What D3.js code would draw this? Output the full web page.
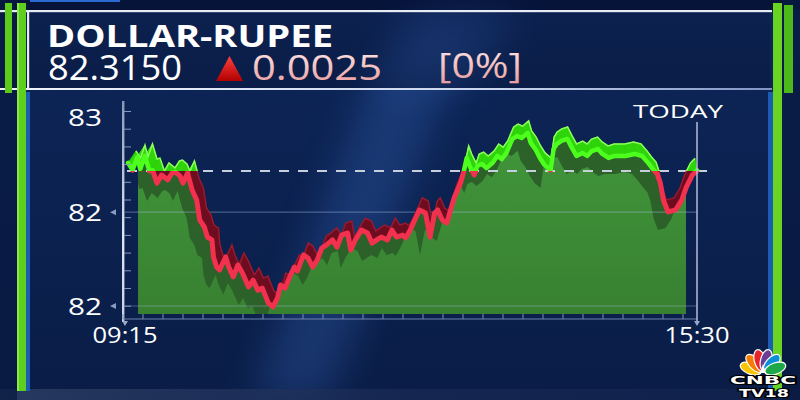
<!DOCTYPE html>
<html><head><meta charset="utf-8">
<script src="https://cdn.jsdelivr.net/npm/d3@7"></script>
<style>html,body{margin:0;padding:0;background:#0b1f4c;overflow:hidden}svg{display:block}</style>
</head><body><svg id="c" width="800" height="400"></svg>
<script>
// ---------- data ----------
const title = "DOLLAR-RUPEE";
const lastPrice = "82.3150";
const change = "0.0025";
const changePct = "[0%]";
const prevClose = 82.3125;
const periodLabel = "TODAY";
const xTickLabels = ["09:15", "15:30"];
const yTickValues = [82.5, 82.17, 81.845];
const times = ["09:17","09:20","09:23","09:25","09:28","09:31","09:33","09:36","09:39","09:43",
"09:46","09:48","09:51","09:53","09:56","09:59","10:02","10:04","10:07","10:09",
"10:12","10:13","10:15","10:17","10:21","10:23","10:26","10:29","10:32","10:36",
"10:39","10:42","10:45","10:49","10:52","10:55","10:57","11:00","11:03","11:06",
"11:08","11:12","11:15","11:18","11:21","11:24","11:27","11:31","11:34","11:37",
"11:41","11:43","11:46","11:50","11:54","11:57","12:00","12:03","12:07","12:10",
"12:13","12:17","12:19","12:22","12:25","12:28","12:32","12:35","12:38","12:40",
"12:43","12:46","12:49","12:51","12:55","12:57","12:59","13:01","13:04","13:06",
"13:09","13:12","13:16","13:19","13:22","13:25","13:29","13:32","13:35","13:39",
"13:41","13:44","13:47","13:50","13:54","13:56","13:58","14:01","14:05","14:08",
"14:11","14:15","14:18","14:21","14:25","14:28","14:32","14:36","14:43","14:49",
"14:54","14:58","15:01","15:04","15:06","15:08","15:11","15:16","15:20","15:23",
"15:27","15:30"];
const values = [82.341,82.316,82.361,82.320,82.365,82.313,82.316,82.271,82.299,82.282,
82.306,82.309,82.296,82.271,82.306,82.247,82.212,82.143,82.119,82.084,
82.074,82.015,81.980,81.970,82.015,81.980,81.946,81.987,81.959,81.911,
81.935,81.900,81.907,81.855,81.842,81.873,81.918,81.907,81.946,81.980,
81.966,82.022,82.011,81.980,82.004,82.046,82.056,82.074,82.049,82.091,
82.098,82.039,82.074,82.108,82.098,82.063,82.074,82.084,82.074,82.108,
82.084,82.091,82.081,82.108,82.143,82.178,82.167,82.084,82.167,82.178,
82.143,82.133,82.188,82.223,82.271,82.309,82.358,82.330,82.299,82.330,
82.337,82.323,82.341,82.365,82.354,82.375,82.424,82.434,82.427,82.445,
82.410,82.389,82.358,82.334,82.316,82.389,82.406,82.417,82.424,82.393,
82.365,82.375,82.365,82.382,82.389,82.372,82.358,82.365,82.365,82.372,
82.365,82.341,82.320,82.302,82.271,82.212,82.171,82.178,82.212,82.257,
82.299,82.315];

// ---------- setup ----------
const parse = d3.timeParse("%H:%M");
const svg = d3.select("#c");
const defs = svg.append("defs");
const FONT = "'Open Sans', 'DejaVu Sans', sans-serif";

function lin(id, x1, y1, x2, y2, stops) {
  const g = defs.append("linearGradient").attr("id", id)
    .attr("x1", x1).attr("y1", y1).attr("x2", x2).attr("y2", y2);
  stops.forEach(s => g.append("stop").attr("offset", s[0]).attr("stop-color", s[1]).attr("stop-opacity", s[2] == null ? 1 : s[2]));
}
lin("bgGrad", 0, 0, 0, 1, [[0, "#0d2659"], [1, "#0a1d47"]]);
lin("hdrGrad", 0, 0, 0, 1, [[0, "#0c1f4c"], [1, "#0a1b44"]]);
lin("areaGrad", 0, 0, 0, 1, [[0, "#40943a"], [1, "#377f30"]]);
lin("pinkGrad", 0, 0, 0, 1, [[0, "#fff0f0"], [1, "#e89494"]]);
lin("triGrad", 0, 0, 0, 1, [[0, "#ff4040"], [1, "#b00000"]]);
lin("axisGrad", 0, 0, 0, 1, [[0, "#8a98b8"], [0.6, "#e0e6f2"], [1, "#c8d0e4"]]);
lin("botGrad", 0, 0, 1, 0, [[0, "#33446a"], [0.5, "#1a2b55"], [1, "#12244e"]]);
lin("hlineGrad", 0, 0, 1, 0, [[0, "#f0f4fa"], [0.65, "#c8d4ec"], [1, "#7f94c4"]]);
lin("gridTopGrad", 0, 0, 1, 0, [[0, "#8aa0d0", 0.05], [0.5, "#8aa0d0", 0.55], [1, "#8aa0d0", 0.55]]);
lin("redWall", 0, 0, 0, 1, [[0, "#5e0718"], [1, "#8c1228"]]);
defs.append("filter").attr("id", "blur").attr("x", "-50%").attr("y", "-50%").attr("width", "200%").attr("height", "200%")
  .append("feGaussianBlur").attr("stdDeviation", 18);

const x = d3.scaleTime().domain([parse(xTickLabels[0]), parse(xTickLabels[1])]).range([125, 697]);
const y = d3.scaleLinear().domain([81.845, 82.5]).range([306, 117]);
const pts = times.map((t, i) => [x(parse(t)), y(values[i])]);
const ty = y(prevClose);
const areaBottom = 314;

// ---------- background ----------
svg.append("rect").attr("width", 800).attr("height", 400).attr("fill", "url(#bgGrad)");
svg.append("polygon").attr("points", "400,0 480,0 330,400 250,400").attr("fill", "#3a70c8").attr("opacity", 0.28).attr("filter", "url(#blur)");
svg.append("rect").attr("x", 0).attr("y", 0).attr("width", 800).attr("height", 10).attr("fill", "#06143a");
svg.append("rect").attr("x", 30).attr("y", 0).attr("width", 90).attr("height", 2).attr("fill", "#2a6ad0");
svg.append("rect").attr("x", 0).attr("y", 11).attr("width", 770).attr("height", 78).attr("fill", "url(#hdrGrad)").attr("opacity", 0.75);
svg.append("polygon").attr("points", "420,11 520,11 470,89 370,89").attr("fill", "#3a70c8").attr("opacity", 0.18).attr("filter", "url(#blur)");
svg.append("rect").attr("x", 0).attr("y", 389).attr("width", 800).attr("height", 11).attr("fill", "url(#botGrad)").attr("opacity", 0.7);
// side dark margins
svg.append("rect").attr("x", 0).attr("y", 0).attr("width", 17).attr("height", 400).attr("fill", "#081a40").attr("opacity", 0.7);
svg.append("rect").attr("x", 782).attr("y", 0).attr("width", 18).attr("height", 400).attr("fill", "#081a40").attr("opacity", 0.7);

// header lines
svg.append("rect").attr("x", 0).attr("y", 10).attr("width", 772).attr("height", 2.2).attr("fill", "#e6ebf4");
svg.append("rect").attr("x", 0).attr("y", 88).attr("width", 772).attr("height", 2).attr("fill", "url(#hlineGrad)");
svg.append("rect").attr("x", 27).attr("y", 11).attr("width", 2.2).attr("height", 78).attr("fill", "#e6ebf4");

// ---------- header texts ----------
svg.append("text").text(title).attr("x", 47).attr("y", 47)
  .attr("font-family", FONT).attr("font-weight", 700).attr("font-size", 30)
  .attr("fill", "#ffffff").attr("textLength", 286).attr("lengthAdjust", "spacingAndGlyphs");
svg.append("text").text(lastPrice).attr("x", 48).attr("y", 80)
  .attr("font-family", FONT).attr("font-weight", 500).attr("font-size", 34)
  .attr("fill", "#ffffff").attr("textLength", 134).attr("lengthAdjust", "spacingAndGlyphs");
svg.append("polygon").attr("points", "229.5,56 243,81 216,81").attr("fill", "url(#triGrad)");
svg.append("text").text(change).attr("x", 252).attr("y", 80)
  .attr("font-family", FONT).attr("font-weight", 500).attr("font-size", 34)
  .attr("fill", "url(#pinkGrad)").attr("textLength", 130).attr("lengthAdjust", "spacingAndGlyphs");
svg.append("text").text(changePct).attr("x", 438).attr("y", 78)
  .attr("font-family", FONT).attr("font-weight", 400).attr("font-size", 34)
  .attr("fill", "url(#pinkGrad)").attr("textLength", 84).attr("lengthAdjust", "spacingAndGlyphs");

// ---------- clip paths ----------
defs.append("clipPath").attr("id", "above").append("rect").attr("x", 0).attr("y", 0).attr("width", 800).attr("height", ty);
defs.append("clipPath").attr("id", "below").append("rect").attr("x", 0).attr("y", ty).attr("width", 800).attr("height", 400 - ty);
defs.append("clipPath").attr("id", "areaRect").append("rect").attr("x", 138).attr("y", 0).attr("width", 686 - 138).attr("height", areaBottom);
const frontArea = d3.area().x(d => d[0]).y0(areaBottom).y1(d => d[1]);
defs.append("clipPath").attr("id", "shadowClip").append("path").attr("d", frontArea(pts));

// ---------- area + shadow ----------
const gArea = svg.append("g").attr("clip-path", "url(#areaRect)");
gArea.append("path").attr("d", frontArea(pts)).attr("fill", "#2c6129");
const shifted = pts.map(p => [p[0] - 10, p[1] + 18]);
gArea.append("g").attr("clip-path", "url(#shadowClip)")
  .append("path").attr("d", frontArea(shifted)).attr("fill", "url(#areaGrad)");

// ---------- grid ----------
svg.append("line").attr("x1", 127).attr("x2", 697).attr("y1", y(yTickValues[0])).attr("y2", y(yTickValues[0]))
  .attr("stroke", "url(#gridTopGrad)").attr("stroke-width", 1.2);
yTickValues.slice(1).forEach(v => {
  svg.append("line").attr("x1", 125).attr("x2", 697).attr("y1", y(v)).attr("y2", y(v))
    .attr("stroke", "#a8bce0").attr("stroke-opacity", 0.4).attr("stroke-width", 1.2);
});

// dashed previous close
svg.append("line").attr("x1", 127).attr("x2", 714).attr("y1", ty).attr("y2", ty)
  .attr("stroke", "#c6cfdc").attr("stroke-width", 2).attr("stroke-dasharray", "10 9");

// ---------- 3D ribbon ----------
const off = px => [8 - (px - 125) / 572 * 10, -12];
const walls = [];
for (let i = 0; i < pts.length - 1; i++) {
  const [x0, y0] = pts[i], [x1, y1] = pts[i + 1];
  const o0 = off(x0), o1 = off(x1);
  walls.push(`M${x0},${y0}L${x1},${y1}L${x1 + o1[0]},${y1 + o1[1]}L${x0 + o0[0]},${y0 + o0[1]}Z`);
}
const back = pts.map(p => { const o = off(p[0]); return [p[0] + o[0], p[1] + o[1]]; });
const line = d3.line();

const gRed = svg.append("g").attr("clip-path", "url(#below)");
gRed.selectAll("path.w").data(walls).join("path").attr("class", "w").attr("d", d => d)
  .attr("fill", "#6e0d20").attr("stroke", "#6e0d20").attr("stroke-width", 0.8);
gRed.append("path").attr("d", line(back)).attr("fill", "none").attr("stroke", "#981a30").attr("stroke-width", 1.5);
gRed.append("path").attr("d", line(pts)).attr("fill", "none").attr("stroke", "#f2314e")
  .attr("stroke-width", 5).attr("stroke-linejoin", "round").attr("stroke-linecap", "round");

const gGreen = svg.append("g").attr("clip-path", "url(#above)");
gGreen.selectAll("path.w").data(walls).join("path").attr("class", "w").attr("d", d => d)
  .attr("fill", "#2fd40a").attr("stroke", "#2fd40a").attr("stroke-width", 0.8);
gGreen.append("path").attr("d", line(back)).attr("fill", "none").attr("stroke", "#8aff5c").attr("stroke-width", 1.5);
gGreen.append("path").attr("d", line(pts)).attr("fill", "none").attr("stroke", "#4cff1c")
  .attr("stroke-width", 4.5).attr("stroke-linejoin", "round").attr("stroke-linecap", "round");

// ---------- axes ----------
svg.append("rect").attr("x", 122).attr("y", 101).attr("width", 2.4).attr("height", 221).attr("fill", "url(#axisGrad)");
d3.range(111.5, 310, 17.7).forEach(py => {
  svg.append("line").attr("x1", 124).attr("x2", 131).attr("y1", py).attr("y2", py)
    .attr("stroke", "#8898bc").attr("stroke-width", 1);
});
yTickValues.forEach(v => {
  svg.append("text").text(d3.format(".0f")(v)).attr("x", 102).attr("y", y(v)).attr("dy", "0.36em")
    .attr("text-anchor", "end").attr("font-family", FONT).attr("font-weight", 500).attr("font-size", 24)
    .attr("fill", "#ffffff").attr("textLength", 34).attr("lengthAdjust", "spacingAndGlyphs");
});
yTickValues.slice(1).forEach(v => {
  const py = y(v);
  svg.append("polygon").attr("points", `110,${py} 116,${py - 3} 116,${py + 3}`).attr("fill", "#8a9ac0");
});
svg.append("line").attr("x1", 123).attr("x2", 697).attr("y1", 319).attr("y2", 319)
  .attr("stroke", "#6f82ae").attr("stroke-width", 1.2);
d3.range(123, 698, 20).forEach(px => {
  svg.append("line").attr("x1", px).attr("x2", px).attr("y1", 314).attr("y2", 319)
    .attr("stroke", "#7d90ba").attr("stroke-width", 1);
});
svg.append("line").attr("x1", x(parse(xTickLabels[1]))).attr("x2", x(parse(xTickLabels[1])))
  .attr("y1", 122).attr("y2", 321).attr("stroke", "#b4bed4").attr("stroke-width", 1.5);
xTickLabels.forEach(t => {
  const px = x(parse(t));
  svg.append("polygon").attr("points", `${px - 3},321 ${px + 3},321 ${px},326`).attr("fill", "#9aa8c8");
  svg.append("text").text(t).attr("x", px).attr("y", 343).attr("text-anchor", "middle")
    .attr("font-family", FONT).attr("font-weight", 500).attr("font-size", 22)
    .attr("fill", "#ffffff").attr("textLength", 65).attr("lengthAdjust", "spacingAndGlyphs");
});
svg.append("text").text(periodLabel).attr("x", 633).attr("y", 118)
  .attr("font-family", FONT).attr("font-weight", 500).attr("font-size", 18)
  .attr("fill", "#ffffff").attr("textLength", 90).attr("lengthAdjust", "spacingAndGlyphs");

// ---------- side bars ----------
svg.append("rect").attr("x", 5).attr("y", 3).attr("width", 7).attr("height", 90).attr("fill", "#5ccc1c");
svg.append("rect").attr("x", 17).attr("y", 3).attr("width", 9).attr("height", 388).attr("fill", "#5fcf1e");
svg.append("rect").attr("x", 17).attr("y", 3).attr("width", 2).attr("height", 388).attr("fill", "#8ae84a");
svg.append("rect").attr("x", 26).attr("y", 92).attr("width", 4).attr("height", 299).attr("fill", "#1b5db4");
svg.append("rect").attr("x", 768).attr("y", 92).attr("width", 5).attr("height", 299).attr("fill", "#1b5db4");
svg.append("rect").attr("x", 773).attr("y", 3).attr("width", 9).attr("height", 388).attr("fill", "#6ad422");
svg.append("rect").attr("x", 784).attr("y", 5).attr("width", 9).attr("height", 88).attr("fill", "#4db81a");

// ---------- logo ----------
const logo = svg.append("g").attr("transform", "translate(763,373)");
const feathers = [["#f7c600", -70], ["#f57c00", -42], ["#e8232a", -14], ["#6c3d96", 14], ["#0a8fd8", 42], ["#1fa84a", 70]];
feathers.forEach(f => {
  logo.append("ellipse").attr("cx", 0).attr("cy", -13).attr("rx", 5.6).attr("ry", 11)
    .attr("transform", `rotate(${f[1]})`).attr("fill", f[0]).attr("stroke", "#ffffff").attr("stroke-width", 1.2);
});
logo.append("path").attr("d", "M-3,0 L0,-9 L3,0 Z").attr("fill", "#ffffff");
svg.append("text").text("CNBC").attr("x", 763).attr("y", 384).attr("text-anchor", "middle")
  .attr("font-family", "'DejaVu Sans', sans-serif").attr("font-weight", 700).attr("font-size", 11)
  .attr("fill", "#ffffff").attr("stroke", "#000000").attr("stroke-width", 2.2).attr("paint-order", "stroke")
  .attr("textLength", 66).attr("lengthAdjust", "spacingAndGlyphs");
svg.append("text").text("TV18").attr("x", 764).attr("y", 397).attr("text-anchor", "middle")
  .attr("font-family", "'DejaVu Sans', sans-serif").attr("font-weight", 700).attr("font-size", 10)
  .attr("fill", "#ffffff").attr("stroke", "#000000").attr("stroke-width", 2.2).attr("paint-order", "stroke")
  .attr("textLength", 50).attr("lengthAdjust", "spacingAndGlyphs");
</script>
</body></html>
